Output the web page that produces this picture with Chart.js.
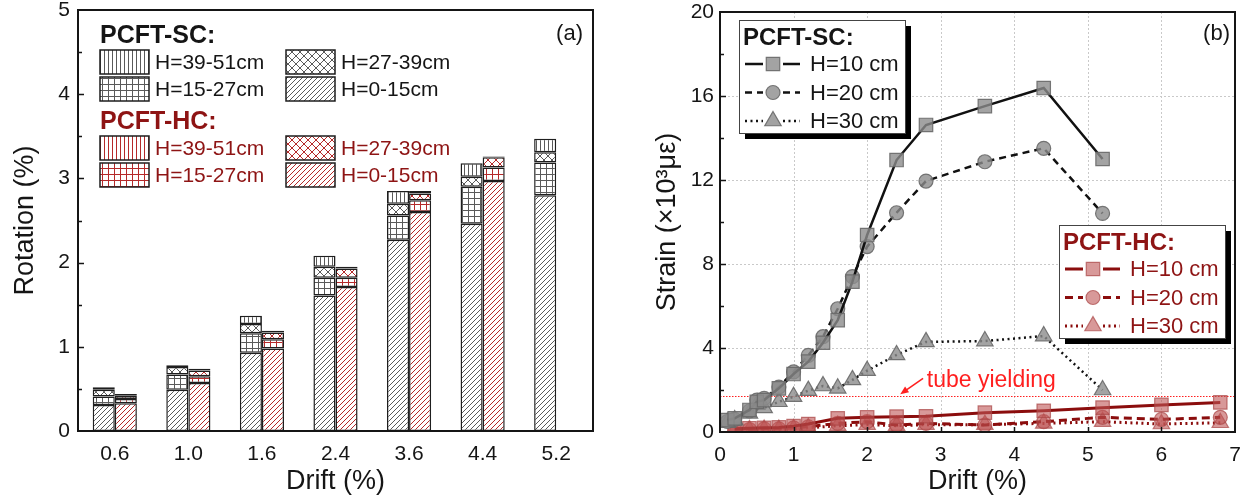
<!DOCTYPE html>
<html>
<head>
<meta charset="utf-8">
<script src="https://cdn.jsdelivr.net/npm/chart.js@4.4.1/dist/chart.umd.min.js"></script>
<style>
  html, body { margin: 0; padding: 0; background: #fff; }
  #wrap { position: relative; width: 1256px; height: 500px; overflow: hidden; }
  canvas { position: absolute; top: 0; }
  #rot { left: 0; }
  #strain { left: 620px; }
</style>
</head>
<body>
<div id="wrap">
  <canvas id="rot" width="610" height="500"></canvas>
  <canvas id="strain" width="636" height="500"></canvas>
</div>
<script>
// ---- (a) rotation per segment height, stacked per drift level ----
var drifts = ['0.6', '1.0', '1.6', '2.4', '3.6', '4.4', '5.2'];
var scH0to15 = [0.31, 0.49, 0.93, 1.61, 2.27, 2.46, 2.80];
var scH15to27 = [0.10, 0.18, 0.23, 0.21, 0.29, 0.44, 0.39];
var scH27to39 = [0.08, 0.09, 0.11, 0.13, 0.14, 0.12, 0.12];
var scH39to51 = [0.03, 0.02, 0.10, 0.13, 0.15, 0.16, 0.16];
var hcH0to15 = [0.33, 0.57, 0.98, 1.71, 2.60, 2.97, null];
var hcH15to27 = [0.05, 0.08, 0.11, 0.11, 0.14, 0.16, null];
var hcH27to39 = [0.04, 0.07, 0.08, 0.11, 0.08, 0.12, null];
var hcH39to51 = [0.02, 0.02, 0.02, 0.02, 0.03, 0.01, null];
var rotTicks = [0, 1, 2, 3, 4, 5];

// ---- (b) strain vs drift ----
var scDrift = [0.1, 0.2, 0.4, 0.5, 0.6, 0.8, 1.0, 1.2, 1.4, 1.6, 1.8, 2.0, 2.4, 2.8, 3.6, 4.4, 5.2];
var scStrainH10 = [0.57, 0.65, 1.05, 1.44, 1.52, 2.08, 2.76, 3.35, 4.25, 5.33, 7.16, 9.38, 12.95, 14.62, 15.52, 16.38, 13.0];
var scStrainH20 = [0.50, 0.60, 1.00, 1.52, 1.60, 2.14, 2.86, 3.65, 4.54, 5.87, 7.40, 8.83, 10.44, 11.95, 12.87, 13.51, 10.41];
var scStrainH30 = [0.45, 0.57, 0.89, 1.30, 1.15, 1.44, 1.68, 1.97, 2.19, 2.08, 2.48, 2.92, 3.67, 4.29, 4.33, 4.57, 2.00];
var hcDrift = [0.2, 0.4, 0.6, 0.8, 1.0, 1.2, 1.6, 2.0, 2.4, 2.8, 3.6, 4.4, 5.2, 6.0, 6.8];
var hcStrainH10 = [0.15, 0.18, 0.20, 0.22, 0.28, 0.38, 0.65, 0.70, 0.73, 0.75, 0.92, 1.01, 1.16, 1.29, 1.41];
var hcStrainH20 = [0.08, 0.12, 0.15, 0.15, 0.20, 0.25, 0.41, 0.49, 0.33, 0.41, 0.33, 0.49, 0.70, 0.60, 0.70];
var hcStrainH30 = [0.05, 0.10, 0.12, 0.12, 0.15, 0.20, 0.30, 0.35, 0.30, 0.35, 0.35, 0.41, 0.49, 0.38, 0.44];
var strainTicks = [0, 4, 8, 12, 16, 20];
var driftTicks = [0, 1, 2, 3, 4, 5, 6, 7];
var yieldStrain = 1.7;
var yieldNote = { text: 'tube yielding', x: 2.81, y: 2.43 };
var yieldArrow = { from: [2.76, 2.55], to: [2.45, 1.80] };

var FONT = "'Liberation Sans', Arial, sans-serif";
var INK = '#151515';
var SC_HATCH = '#5a5a5a';
var HC_HATCH = '#b52a2a';
var HC_TEXT = '#8e1414';
Chart.defaults.font.family = FONT;
Chart.defaults.color = INK;

// hatch tiles for the bar segments
function hatch(ctx, kind, color) {
  var s = { vert: 4, grid: 6, cross: 8, diag: 5 }[kind];
  var c = document.createElement('canvas');
  c.width = s; c.height = s;
  var g = c.getContext('2d');
  g.fillStyle = '#fff';
  g.fillRect(0, 0, s, s);
  g.strokeStyle = color;
  g.lineWidth = 1;
  g.beginPath();
  if (kind === 'vert') {
    g.moveTo(0.5, 0); g.lineTo(0.5, s);
  } else if (kind === 'grid') {
    g.moveTo(0.5, 0); g.lineTo(0.5, s);
    g.moveTo(0, 0.5); g.lineTo(s, 0.5);
  } else if (kind === 'cross') {
    g.moveTo(0, 0); g.lineTo(s, s);
    g.moveTo(s, 0); g.lineTo(0, s);
  } else {
    g.moveTo(0, s); g.lineTo(s, 0);
    g.moveTo(-1, 1); g.lineTo(1, -1);
    g.moveTo(s - 1, s + 1); g.lineTo(s + 1, s - 1);
  }
  g.stroke();
  return ctx.createPattern(c, 'repeat');
}

// drop Chart.js' own label padding so the plot box lands where we want it
function fixSize(prop, v) {
  return function (s) {
    s[prop] = v;
    s.paddingLeft = s.paddingRight = s.paddingTop = s.paddingBottom = 0;
  };
}

var noGrid = { display: false, drawTicks: false };

function drawFrame(ctx, ca) {
  ctx.save();
  ctx.strokeStyle = INK;
  ctx.lineWidth = 2;
  ctx.strokeRect(ca.left, ca.top, ca.right - ca.left, ca.bottom - ca.top);
  ctx.restore();
}

function yTicksIn(ctx, chart, step, majorEvery) {
  var y = chart.scales.y, ca = chart.chartArea;
  ctx.save();
  ctx.strokeStyle = INK;
  ctx.lineWidth = 1.5;
  ctx.beginPath();
  for (var v = y.min + step; v < y.max - 1e-6; v += step) {
    var py = Math.round(y.getPixelForValue(v)) + 0.5;
    var len = Math.abs(v / majorEvery - Math.round(v / majorEvery)) < 1e-6 ? 6 : 4;
    ctx.moveTo(ca.left, py); ctx.lineTo(ca.left + len, py);
  }
  ctx.stroke();
  ctx.restore();
}

// ---------- panel (a) ----------
var rotCanvas = document.getElementById('rot');
var rctx = rotCanvas.getContext('2d');
var pat = {
  sc: { vert: hatch(rctx, 'vert', SC_HATCH), grid: hatch(rctx, 'grid', SC_HATCH), cross: hatch(rctx, 'cross', SC_HATCH), diag: hatch(rctx, 'diag', SC_HATCH) },
  hc: { vert: hatch(rctx, 'vert', HC_HATCH), grid: hatch(rctx, 'grid', HC_HATCH), cross: hatch(rctx, 'cross', HC_HATCH), diag: hatch(rctx, 'diag', HC_HATCH) }
};

function seg(label, data, stack, fill) {
  return {
    label: label, data: data, stack: stack,
    backgroundColor: fill, borderColor: '#1e1e1e', borderWidth: 1.5, borderSkipped: false,
    categoryPercentage: 0.6, barPercentage: 1.0
  };
}

var rotLegendPlugin = {
  id: 'rotLegend',
  afterDraw: function (chart) {
    var ctx = chart.ctx, ca = chart.chartArea;
    drawFrame(ctx, ca);
    yTicksIn(ctx, chart, 0.5, 1);
    var x0 = ca.left + 22, y0 = ca.top;
    var groups = [
      { title: 'PCFT-SC:', color: INK, top: y0 + 26, p: pat.sc },
      { title: 'PCFT-HC:', color: HC_TEXT, top: y0 + 112, p: pat.hc }
    ];
    ctx.save();
    groups.forEach(function (gr) {
      ctx.fillStyle = gr.color;
      ctx.font = 'bold 25px ' + FONT;
      ctx.textBaseline = 'middle';
      ctx.textAlign = 'left';
      ctx.fillText(gr.title, x0, gr.top);
      var cells = [
        { p: gr.p.vert, t: 'H=39-51cm', col: 0, row: 0 },
        { p: gr.p.cross, t: 'H=27-39cm', col: 1, row: 0 },
        { p: gr.p.grid, t: 'H=15-27cm', col: 0, row: 1 },
        { p: gr.p.diag, t: 'H=0-15cm', col: 1, row: 1 }
      ];
      cells.forEach(function (c) {
        var sx = x0 + c.col * 186, sy = gr.top + 14 + c.row * 27;
        ctx.fillStyle = c.p;
        ctx.fillRect(sx, sy, 49, 24);
        ctx.strokeStyle = '#1e1e1e';
        ctx.lineWidth = 1.5;
        ctx.strokeRect(sx, sy, 49, 24);
        ctx.fillStyle = gr.color;
        ctx.font = '21px ' + FONT;
        ctx.fillText(c.t, sx + 55, sy + 13);
      });
    });
    ctx.fillStyle = INK;
    ctx.font = '22px ' + FONT;
    ctx.textAlign = 'right';
    ctx.fillText('(a)', ca.right - 10, ca.top + 24);
    ctx.restore();
  }
};

new Chart(rotCanvas, {
  type: 'bar',
  data: {
    labels: drifts,
    datasets: [
      seg('PCFT-SC H=0-15cm', scH0to15, 'sc', pat.sc.diag),
      seg('PCFT-SC H=15-27cm', scH15to27, 'sc', pat.sc.grid),
      seg('PCFT-SC H=27-39cm', scH27to39, 'sc', pat.sc.cross),
      seg('PCFT-SC H=39-51cm', scH39to51, 'sc', pat.sc.vert),
      seg('PCFT-HC H=0-15cm', hcH0to15, 'hc', pat.hc.diag),
      seg('PCFT-HC H=15-27cm', hcH15to27, 'hc', pat.hc.grid),
      seg('PCFT-HC H=27-39cm', hcH27to39, 'hc', pat.hc.cross),
      seg('PCFT-HC H=39-51cm', hcH39to51, 'hc', pat.hc.vert)
    ]
  },
  options: {
    responsive: false,
    animation: false,
    layout: { padding: { top: 10, right: 17, left: 0, bottom: 0 } },
    plugins: { legend: { display: false }, tooltip: { enabled: false } },
    scales: {
      x: {
        stacked: true,
        grid: noGrid, border: { display: false },
        ticks: { font: { size: 21 }, color: INK, padding: 11 },
        title: { display: true, text: 'Drift (%)', font: { size: 27 }, color: INK, padding: { top: 0, bottom: 2 } },
        afterFit: fixSize('height', 69)
      },
      y: {
        stacked: true, min: 0, max: 5,
        afterBuildTicks: function (s) { s.ticks = rotTicks.map(function (v) { return { value: v }; }); },
        grid: noGrid, border: { display: false },
        ticks: { font: { size: 21 }, color: INK, padding: 8 },
        title: { display: true, text: 'Rotation (%)', font: { size: 27 }, color: INK, padding: { top: 9, bottom: 0 } },
        afterFit: fixSize('width', 78)
      }
    }
  },
  plugins: [rotLegendPlugin]
});

// ---------- panel (b) ----------
var SC_MARK = 'rgba(140,140,140,0.8)';
var SC_MARK_EDGE = 'rgba(105,105,105,0.9)';
var HC_MARK = 'rgba(190,85,85,0.6)';
var HC_MARK_EDGE = 'rgba(170,70,70,0.7)';
var HC_LINE = '#8b0d0d';

function series(label, xs, ys, style, dash, line, fill, edge, width) {
  return {
    label: label,
    data: xs.map(function (x, i) { return { x: x, y: ys[i] }; }),
    borderColor: line, borderWidth: width, borderDash: dash, tension: 0,
    pointStyle: style,
    pointRadius: style === 'circle' ? 7 : 9.5,
    pointBackgroundColor: fill, pointBorderColor: edge, pointBorderWidth: 1.2,
    fill: false
  };
}

var strainSets = [
  series('PCFT-SC H=10 cm', scDrift, scStrainH10, 'rect', [], '#111', SC_MARK, SC_MARK_EDGE, 2.5),
  series('PCFT-SC H=20 cm', scDrift, scStrainH20, 'circle', [7, 5], '#111', SC_MARK, SC_MARK_EDGE, 2.5),
  series('PCFT-SC H=30 cm', scDrift, scStrainH30, 'triangle', [2, 3.5], '#111', SC_MARK, SC_MARK_EDGE, 2.5),
  series('PCFT-HC H=10 cm', hcDrift, hcStrainH10, 'rect', [], HC_LINE, HC_MARK, HC_MARK_EDGE, 3),
  series('PCFT-HC H=20 cm', hcDrift, hcStrainH20, 'circle', [8, 5], HC_LINE, HC_MARK, HC_MARK_EDGE, 3),
  series('PCFT-HC H=30 cm', hcDrift, hcStrainH30, 'triangle', [2, 3.5], HC_LINE, HC_MARK, HC_MARK_EDGE, 3)
];

function lineLegend(ctx, box, title, titleColor, textColor, sets) {
  ctx.save();
  ctx.fillStyle = '#000';
  ctx.fillRect(box.x + 6, box.y + 6, box.w, box.h);
  ctx.fillStyle = '#fff';
  ctx.fillRect(box.x, box.y, box.w, box.h);
  ctx.strokeStyle = '#444';
  ctx.lineWidth = 1;
  ctx.strokeRect(box.x + 0.5, box.y + 0.5, box.w, box.h);
  ctx.textBaseline = 'middle';
  ctx.textAlign = 'left';
  ctx.fillStyle = titleColor;
  ctx.font = 'bold 24px ' + FONT;
  ctx.fillText(title, box.x + 4, box.y + 18);
  sets.forEach(function (ds, i) {
    var cy = box.y + 44 + i * 28.5;
    var lx0 = box.x + 6, lx1 = box.x + 61, mx = box.x + 34;
    ctx.strokeStyle = ds.borderColor;
    ctx.lineWidth = ds.borderWidth;
    ctx.setLineDash(ds.borderDash);
    ctx.beginPath();
    ctx.moveTo(lx0, cy); ctx.lineTo(mx - 10, cy);
    ctx.moveTo(mx + 10, cy); ctx.lineTo(lx1, cy);
    ctx.stroke();
    ctx.setLineDash([]);
    ctx.fillStyle = ds.pointBackgroundColor;
    ctx.strokeStyle = ds.pointBorderColor;
    ctx.lineWidth = ds.pointBorderWidth;
    Chart.helpers.drawPoint(ctx, { pointStyle: ds.pointStyle, radius: ds.pointRadius, borderWidth: ds.pointBorderWidth, rotation: 0 }, mx, cy);
    ctx.fillStyle = textColor;
    ctx.font = '22px ' + FONT;
    ctx.fillText(ds.label.replace(/^PCFT-.C /, ''), box.x + 71, cy + 1);
  });
  ctx.restore();
}

var strainDecor = {
  id: 'strainDecor',
  beforeDatasetsDraw: function (chart) {
    var ctx = chart.ctx, ca = chart.chartArea, sx = chart.scales.x, sy = chart.scales.y;
    ctx.save();
    ctx.strokeStyle = '#c9c9c9';
    ctx.lineWidth = 1;
    ctx.setLineDash([2, 2]);
    ctx.beginPath();
    driftTicks.slice(1, -1).forEach(function (v) {
      var px = Math.round(sx.getPixelForValue(v)) + 0.5;
      ctx.moveTo(px, ca.top); ctx.lineTo(px, ca.bottom);
    });
    strainTicks.slice(1, -1).forEach(function (v) {
      var py = Math.round(sy.getPixelForValue(v)) + 0.5;
      ctx.moveTo(ca.left, py); ctx.lineTo(ca.right, py);
    });
    ctx.stroke();
    // yield level of the steel tube
    var yy = Math.round(sy.getPixelForValue(yieldStrain)) + 0.5;
    ctx.strokeStyle = '#ff1f1f';
    ctx.setLineDash([1.5, 1.5]);
    ctx.beginPath();
    ctx.moveTo(ca.left, yy); ctx.lineTo(ca.right, yy);
    ctx.stroke();
    ctx.restore();
  },
  afterDatasetsDraw: function (chart) {
    var ctx = chart.ctx, ca = chart.chartArea, sx = chart.scales.x, sy = chart.scales.y;
    drawFrame(ctx, ca);
    yTicksIn(ctx, chart, 2, 4);
    ctx.save();
    ctx.strokeStyle = INK;
    ctx.lineWidth = 1.5;
    ctx.beginPath();
    driftTicks.slice(1, -1).forEach(function (v) {
      var px = Math.round(sx.getPixelForValue(v)) + 0.5;
      ctx.moveTo(px, ca.bottom); ctx.lineTo(px, ca.bottom - 5);
    });
    ctx.stroke();

    // tube yielding note with arrow
    var ax0 = sx.getPixelForValue(yieldArrow.from[0]), ay0 = sy.getPixelForValue(yieldArrow.from[1]);
    var ax1 = sx.getPixelForValue(yieldArrow.to[0]), ay1 = sy.getPixelForValue(yieldArrow.to[1]);
    var ang = Math.atan2(ay1 - ay0, ax1 - ax0);
    ctx.strokeStyle = '#ff1f1f';
    ctx.fillStyle = '#ff1f1f';
    ctx.lineWidth = 1.5;
    ctx.beginPath();
    ctx.moveTo(ax0, ay0); ctx.lineTo(ax1 - 5 * Math.cos(ang), ay1 - 5 * Math.sin(ang));
    ctx.stroke();
    ctx.beginPath();
    ctx.moveTo(ax1, ay1);
    ctx.lineTo(ax1 - 9 * Math.cos(ang - 0.4), ay1 - 9 * Math.sin(ang - 0.4));
    ctx.lineTo(ax1 - 9 * Math.cos(ang + 0.4), ay1 - 9 * Math.sin(ang + 0.4));
    ctx.closePath();
    ctx.fill();
    ctx.font = '23px ' + FONT;
    ctx.textBaseline = 'middle';
    ctx.textAlign = 'left';
    ctx.fillText(yieldNote.text, sx.getPixelForValue(yieldNote.x), sy.getPixelForValue(yieldNote.y));

    ctx.fillStyle = INK;
    ctx.font = '22px ' + FONT;
    ctx.textAlign = 'right';
    ctx.fillText('(b)', ca.right - 5, ca.top + 22);
    ctx.restore();

    lineLegend(ctx, { x: ca.left + 19, y: ca.top + 8, w: 166, h: 113 }, 'PCFT-SC:', INK, INK, strainSets.slice(0, 3));
    lineLegend(ctx, { x: ca.left + 339, y: ca.top + 213, w: 166, h: 113 }, 'PCFT-HC:', HC_TEXT, HC_TEXT, strainSets.slice(3));
  }
};

new Chart(document.getElementById('strain'), {
  type: 'line',
  data: { datasets: strainSets },
  options: {
    responsive: false,
    animation: false,
    layout: { padding: { top: 12, right: 21, left: 0, bottom: 0 } },
    plugins: { legend: { display: false }, tooltip: { enabled: false } },
    scales: {
      x: {
        type: 'linear', min: 0, max: 7,
        afterBuildTicks: function (s) { s.ticks = driftTicks.map(function (v) { return { value: v }; }); },
        grid: noGrid, border: { display: false },
        ticks: { font: { size: 21 }, color: INK, padding: 11 },
        title: { display: true, text: 'Drift (%)', font: { size: 27 }, color: INK, padding: { top: 0, bottom: 2 } },
        afterFit: fixSize('height', 68)
      },
      y: {
        type: 'linear', min: 0, max: 20,
        afterBuildTicks: function (s) { s.ticks = strainTicks.map(function (v) { return { value: v }; }); },
        grid: noGrid, border: { display: false },
        ticks: { font: { size: 21 }, color: INK, padding: 6 },
        title: { display: true, text: 'Strain (×10³με)', font: { size: 27 }, color: INK, padding: { top: 31, bottom: 0 } },
        afterFit: fixSize('width', 100)
      }
    }
  },
  plugins: [strainDecor]
});
</script>
</body>
</html>
